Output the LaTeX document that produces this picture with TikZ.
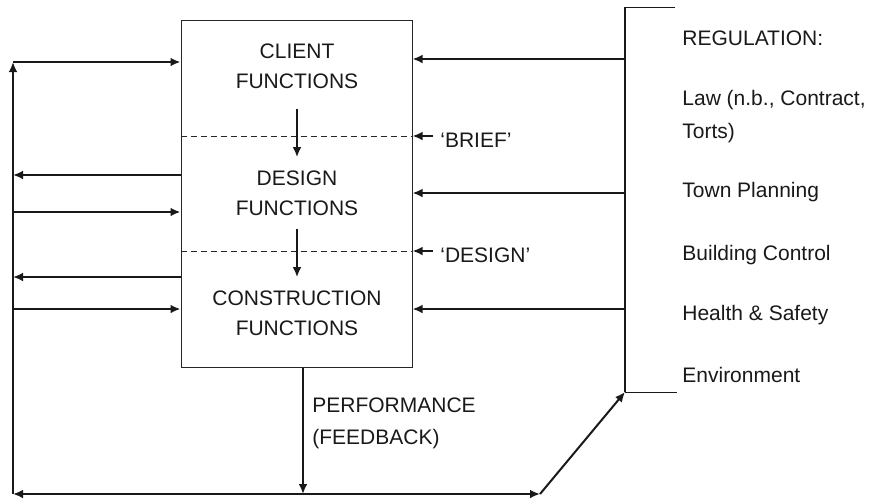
\documentclass[tikz,border=0pt]{standalone}
\usepackage{fontspec}
\setmainfont{Liberation Sans}
\usetikzlibrary{positioning, arrows.meta}

\begin{document}
\begin{tikzpicture}[x=0.5pt, y=-0.5pt, font=\fontsize{10.5}{15}\selectfont]
\tikzstyle{box}=[rectangle, draw=black!85, line width=0.5pt, minimum width=115.5pt, minimum height=173.5pt, inner sep=0pt]
\tikzstyle{txt}=[inner sep=0pt, text=black!90, align=center]
\tikzstyle{side}=[inner sep=0pt, text=black!90, anchor=base west]
\tikzstyle{connect}=[-{Latex[length=5pt, width=4.4pt]}, line width=1pt, draw=black!90]
\tikzstyle{both}=[{Latex[length=5pt, width=4.4pt]}-{Latex[length=5pt, width=4.4pt]}, line width=1pt, draw=black!90]
\tikzstyle{bar}=[line width=1pt, draw=black!90]
\tikzstyle{tick}=[line width=0.5pt, draw=black!90]
\tikzstyle{cut}=[line width=0.4pt, draw=black!85, dash pattern=on 3pt off 2pt]

\useasboundingbox (0,0) rectangle (873,499);

% 2. Nodes
%%%%%%%%%%
\node[box] (fun) at (296.5,193.5) {};
\node[txt] (client) at (297,66) {CLIENT\\FUNCTIONS};
\node[txt] (design) at (297,193) {DESIGN\\FUNCTIONS};
\node[txt] (constr) at (297,313) {CONSTRUCTION\\FUNCTIONS};
\node[side] (brief) at (440,147) {`BRIEF'};
\node[side] (dsgn) at (440,262) {`DESIGN'};
\node[side] (perf) at (312,412) {PERFORMANCE};
\node[side] (feed) at (312,444) {(FEEDBACK)};

\node[side] (reg) at (682,45) {REGULATION:};
\node[side] (law) at (682,105) {Law (n.b., Contract,};
\node[side] (torts) at (682,138) {Torts)};
\node[side] (town) at (682,197) {Town Planning};
\node[side] (build) at (682,260) {Building Control};
\node[side] (health) at (682,320) {Health \& Safety};
\node[side] (env) at (682,382) {Environment};

\coordinate (ft) at (13,62);
\coordinate (fb) at (13,494);
\coordinate (fr) at (540,494);
\coordinate (pd) at (303,494);
\coordinate (l1) at (13,62);
\coordinate (l2) at (13,175);
\coordinate (l3) at (13,212);
\coordinate (l4) at (13,277);
\coordinate (l5) at (13,309);
\coordinate (rtt) at (675,7);
\coordinate (rt) at (625,7);
\coordinate (rb) at (625,392);
\coordinate (rbb) at (677,392);
\coordinate (r1) at (625,59);
\coordinate (r2) at (625,193);
\coordinate (r3) at (625,309);
\coordinate (b1) at (433,136);
\coordinate (g1) at (433,251);

% 3. Arrows
%%%%%%%%%%%
\draw[cut] (fun.west |- b1) -- (fun.east |- b1);
\draw[cut] (fun.west |- g1) -- (fun.east |- g1);
\draw[connect] ([yshift=-10pt]client.south) -- ([yshift=6.5pt]design.north);
\draw[connect] ([yshift=-6.5pt]design.south) -- ([yshift=6.5pt]constr.north);
\draw[connect] (b1) -- (b1 -| fun.east);
\draw[connect] (g1) -- (g1 -| fun.east);

\draw[tick] (rtt) -- (rt);
\draw[tick] (rb) -- (rbb);
\draw[bar] (rt) -- (rb);
\draw[connect] (r1) -- (r1 -| fun.east);
\draw[connect] (r2) -- (r2 -| fun.east);
\draw[connect] (r3) -- (r3 -| fun.east);

\draw[connect] (fb) -- (ft);
\draw[connect] (l1) -- (l1 -| fun.west);
\draw[connect] (l2 -| fun.west) -- (l2);
\draw[connect] (l3) -- (l3 -| fun.west);
\draw[connect] (l4 -| fun.west) -- (l4);
\draw[connect] (l5) -- (l5 -| fun.west);

\draw[connect] (pd |- fun.south) -- (pd);
\draw[both] (fb) -- (fr);
\draw[connect] (fr) -- (rb);

\end{tikzpicture}
\end{document}
